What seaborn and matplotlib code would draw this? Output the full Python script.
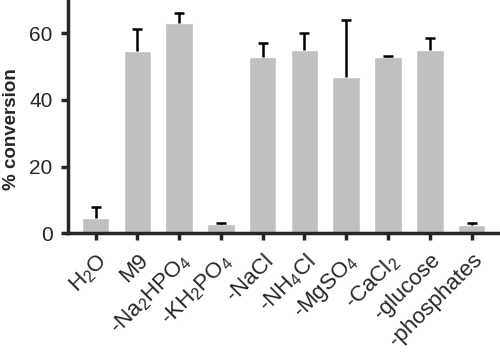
import numpy as np
import pandas as pd
import matplotlib
matplotlib.use("Agg")
import matplotlib.pyplot as plt
import seaborn as sns

# values
conditions = [r'H$_2$O', 'M9', r'-Na$_2$HPO$_4$', r'-KH$_2$PO$_4$', '-NaCl',
              r'-NH$_4$Cl', r'-MgSO$_4$', r'-CaCl$_2$', '-glucose', '-phosphates']
conversion = [4.6, 54.8, 63.0, 2.7, 52.9, 54.9, 46.8, 52.9, 54.9, 2.6]
error_up = [3.3, 6.6, 3.0, 0.3, 4.3, 5.2, 17.3, 0.3, 3.8, 0.5]

sns.set_style("ticks")
plt.rcParams['font.family'] = ['Liberation Sans', 'DejaVu Sans']
plt.rcParams['mathtext.fontset'] = 'custom'
plt.rcParams['mathtext.rm'] = 'Liberation Sans'
plt.rcParams['mathtext.it'] = 'Liberation Sans:italic'
plt.rcParams['mathtext.bf'] = 'Liberation Sans:bold'

df = pd.DataFrame({'condition': conditions, 'conversion': conversion})

fig = plt.figure(figsize=(5, 3.55), dpi=100)
ax = fig.add_axes([0.136, 0.343, 0.864, 0.657])

sns.barplot(data=df, x='condition', y='conversion', color='#c0c0c0',
            saturation=1, width=0.66, errorbar=None, ax=ax)

# upper-only error bars: stem + cap
xpos = np.arange(len(conditions))
tops = np.array(conversion) + np.array(error_up)
ax.vlines(xpos, conversion, tops, color='black', linewidth=1.8)
ax.hlines(tops, xpos - 0.12, xpos + 0.12, color='black', linewidth=1.8)

ax.set_ylim(0, 70)
ax.set_xlim(-0.66, 9.68)
ax.set_yticks([0, 20, 40, 60])
ax.set_xlabel('')
ax.set_ylabel('% conversion', fontsize=13.5, fontweight='bold')
ax.yaxis.set_label_coords(-0.112, 0.446)

for side in ['top', 'right']:
    ax.spines[side].set_visible(False)
for side in ['left', 'bottom']:
    ax.spines[side].set_linewidth(2.5)
ax.tick_params(axis='y', length=5, width=2.5, labelsize=15, pad=6)
ax.tick_params(axis='x', length=5, width=2.5, labelsize=16, pad=7)
plt.setp(ax.get_xticklabels(), rotation=45, ha='right', rotation_mode='anchor')

fig.savefig('out.png', dpi=100)
